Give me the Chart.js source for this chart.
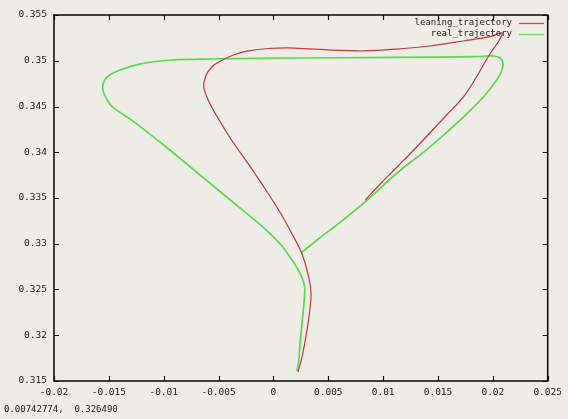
<!DOCTYPE html>
<html>
<head>
<meta charset="utf-8">
<script src="https://cdn.jsdelivr.net/npm/chart.js@4/dist/chart.umd.min.js"></script>
<style>
  html, body { margin: 0; padding: 0; background: #eeece7; }
  #wrap { position: relative; width: 568px; height: 419px; }
  canvas { display: block; }
</style>
</head>
<body>
<div id="wrap"><canvas id="c" width="568" height="419"></canvas></div>
<script>
// ---- data ----
const seriesNames = ["leaning_trajectory", "real_trajectory"];
const leaningX = [0.00223,0.00250,0.00286,0.00323,0.00341,0.00341,0.00323,0.00286,0.00241,0.00160,0.00070,-0.00075,-0.00229,-0.00382,-0.00527,-0.00599,-0.00635,-0.00617,-0.00562,-0.00481,-0.00364,-0.00229,-0.00048,0.00196,0.00521,0.00829,0.01127,0.01425,0.01732,0.01967,0.02085,0.02049,0.01967,0.01850,0.01732,0.01579,0.01425,0.01280,0.01127,0.00973,0.00838];
const leaningY = [0.31598,0.31708,0.31915,0.32189,0.32385,0.32495,0.32626,0.32801,0.32943,0.33128,0.33325,0.33598,0.33872,0.34134,0.34418,0.34582,0.34713,0.34833,0.34932,0.34997,0.35063,0.35107,0.35134,0.35139,0.35117,0.35107,0.35128,0.35161,0.35216,0.35260,0.35303,0.35205,0.35063,0.34822,0.34604,0.34407,0.34210,0.34025,0.33839,0.33653,0.33478];
const realX = [0.00214,0.00232,0.00241,0.00259,0.00277,0.00286,0.00277,0.00250,0.00205,0.00151,0.00070,-0.00075,-0.00382,-0.00680,-0.00978,-0.01286,-0.01466,-0.01530,-0.01557,-0.01538,-0.01494,-0.01421,-0.01222,-0.00924,-0.00590,0.00223,0.01127,0.01850,0.02003,0.02067,0.02094,0.02076,0.02022,0.01922,0.01732,0.01425,0.01127,0.00856,0.00612,0.00422,0.00250];
const realY = [0.31609,0.31729,0.31893,0.32112,0.32331,0.32495,0.32571,0.32658,0.32757,0.32855,0.32986,0.33161,0.33467,0.33762,0.34057,0.34345,0.34495,0.34604,0.34702,0.34790,0.34844,0.34888,0.34964,0.35008,0.35019,0.35030,0.35036,0.35046,0.35052,0.35030,0.34964,0.34877,0.34768,0.34615,0.34385,0.34057,0.33773,0.33478,0.33238,0.33063,0.32899];
const xTicks = [-0.02,-0.015,-0.01,-0.005,0,0.005,0.01,0.015,0.02,0.025];
const xTickLabels = ["-0.02","-0.015","-0.01","-0.005","0","0.005","0.01","0.015","0.02","0.025"];
const yTicks = [0.315,0.32,0.325,0.33,0.335,0.34,0.345,0.35,0.355];
const yTickLabels = ["0.315","0.32","0.325","0.33","0.335","0.34","0.345","0.35","0.355"];
const readout = "0.00742774,  0.326490";

const colors = ["#c8363c", "#5ed84e"];
const legendColors = ["#e04444", "#6adc62"];
const FONT = "DejaVu Sans Mono";

const toPts = (xs, ys) => xs.map((x, i) => ({x: x, y: ys[i]}));

const framePlugin = {
  id: 'frame',
  afterDraw(chart) {
    const {ctx, chartArea: a, scales} = chart;
    ctx.save();
    ctx.strokeStyle = '#111';
    ctx.lineWidth = 1.6;
    ctx.strokeRect(a.left, a.top, a.right - a.left, a.bottom - a.top);
    ctx.lineWidth = 1.2;
    const L = 5;
    xTicks.forEach(v => {
      const p = Math.round(scales.x.getPixelForValue(v)) + 0.5;
      ctx.beginPath();
      ctx.moveTo(p, a.bottom); ctx.lineTo(p, a.bottom - L);
      ctx.moveTo(p, a.top); ctx.lineTo(p, a.top + L);
      ctx.stroke();
    });
    yTicks.forEach(v => {
      const p = Math.round(scales.y.getPixelForValue(v)) + 0.5;
      ctx.beginPath();
      ctx.moveTo(a.left, p); ctx.lineTo(a.left + L, p);
      ctx.moveTo(a.right, p); ctx.lineTo(a.right - L, p);
      ctx.stroke();
    });
    // legend
    ctx.font = "9px '" + FONT + "'";
    ctx.textAlign = 'right';
    ctx.textBaseline = 'middle';
    ctx.fillStyle = '#222';
    chart.data.datasets.forEach((ds, i) => {
      const y = 23 + i * 11;
      ctx.fillText(ds.label, 512, y);
      ctx.strokeStyle = legendColors[i];
      ctx.lineWidth = 1.3;
      ctx.beginPath();
      ctx.moveTo(519, y + 0.5); ctx.lineTo(544, y + 0.5);
      ctx.stroke();
    });
    // coordinate readout
    ctx.textAlign = 'left';
    ctx.fillStyle = '#222';
    ctx.fillText(readout, 4, 410);
    ctx.restore();
  }
};

new Chart(document.getElementById('c'), {
  type: 'scatter',
  data: {
    datasets: [
      { label: seriesNames[0], data: toPts(leaningX, leaningY), showLine: true,
        borderColor: colors[0], borderWidth: 1.2, pointRadius: 0, tension: 0.3, fill: false, order: 1 },
      { label: seriesNames[1], data: toPts(realX, realY), showLine: true,
        borderColor: colors[1], borderWidth: 1.7, pointRadius: 0, tension: 0.3, fill: false, order: 2 }
    ]
  },
  options: {
    responsive: false,
    animation: false,
    events: [],
    layout: { padding: { left: 0, right: 16, top: 15, bottom: 0 } },
    plugins: { legend: { display: false }, tooltip: { enabled: false } },
    scales: {
      x: {
        type: 'linear', min: -0.02, max: 0.025,
        afterBuildTicks: s => { s.ticks = xTicks.map(v => ({value: v})); },
        afterFit: s => { s.height = 38; },
        grid: { display: false, drawTicks: false },
        border: { display: false },
        ticks: { padding: 6, color: '#222', font: { family: FONT, size: 9.5 },
                 maxRotation: 0, autoSkip: false,
                 callback: (v, i) => xTickLabels[i] }
      },
      y: {
        type: 'linear', min: 0.315, max: 0.355,
        afterBuildTicks: s => { s.ticks = yTicks.map(v => ({value: v})); },
        afterFit: s => { s.width = 54; },
        grid: { display: false, drawTicks: false },
        border: { display: false },
        ticks: { padding: 7, color: '#222', font: { family: FONT, size: 9.5 },
                 autoSkip: false,
                 callback: (v, i) => yTickLabels[i] }
      }
    }
  },
  plugins: [framePlugin]
});
</script>
</body>
</html>
